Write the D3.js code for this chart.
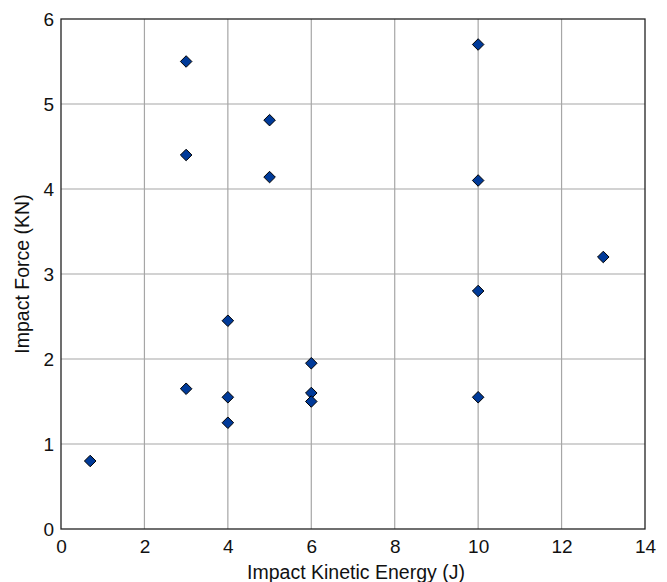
<!DOCTYPE html>
<html>
<head>
<meta charset="utf-8">
<script src="https://cdn.jsdelivr.net/npm/d3@7"></script>
<style>
body { margin: 0; background: #fff; }
text { font-family: "Liberation Sans", Arial, sans-serif; fill: #111; }
</style>
</head>
<body>
<div id="chart"></div>
<script>
const width = 667, height = 582;

// data
const energy = [0.7, 3, 3, 3, 4, 4, 4, 5, 5, 6, 6, 6, 10, 10, 10, 10, 13];
const force = [0.8, 5.5, 4.4, 1.65, 2.45, 1.55, 1.25, 4.81, 4.14, 1.95, 1.6, 1.5, 5.7, 4.1, 2.8, 1.55, 3.2];
const xTicks = [0, 2, 4, 6, 8, 10, 12, 14];
const yTicks = [0, 1, 2, 3, 4, 5, 6];

const margin = {top: 19, right: 22, bottom: 53, left: 61};

const svg = d3.select("#chart")
	.append("svg")
	.attr("width", width)
	.attr("height", height);

const x = d3.scaleLinear()
	.domain([0, 14])
	.range([margin.left, width - margin.right]);

const y = d3.scaleLinear()
	.domain([0, 6])
	.range([height - margin.bottom, margin.top]);

// grid lines
svg.append("g")
	.selectAll("line")
	.data(xTicks.slice(1, -1))
	.enter()
	.append("line")
	.attr("x1", d => x(d)).attr("x2", d => x(d))
	.attr("y1", y(0)).attr("y2", y(6))
	.attr("stroke", "#a6a6a6")
	.attr("stroke-width", 1.2);

svg.append("g")
	.selectAll("line")
	.data(yTicks.slice(1, -1))
	.enter()
	.append("line")
	.attr("x1", x(0)).attr("x2", x(14))
	.attr("y1", d => y(d)).attr("y2", d => y(d))
	.attr("stroke", "#a6a6a6")
	.attr("stroke-width", 1.2);

// plot frame
svg.append("rect")
	.attr("x", x(0))
	.attr("y", y(6))
	.attr("width", x(14) - x(0))
	.attr("height", y(0) - y(6))
	.attr("fill", "none")
	.attr("stroke", "#222")
	.attr("stroke-width", 1.3);

// axes
const xAxis = svg.append("g")
	.attr("transform", `translate(0,${y(0)})`)
	.call(d3.axisBottom(x).tickValues(xTicks).tickFormat(d3.format("d")).tickSize(0).tickPadding(11));
xAxis.select(".domain").remove();
xAxis.selectAll("text").attr("font-size", 19).attr("fill", "#111");

const yAxis = svg.append("g")
	.attr("transform", `translate(${x(0)},0)`)
	.call(d3.axisLeft(y).tickValues(yTicks).tickFormat(d3.format("d")).tickSize(0).tickPadding(7));
yAxis.select(".domain").remove();
yAxis.selectAll("text").attr("font-size", 19).attr("fill", "#111");

// axis titles
svg.append("text")
	.attr("x", (x(0) + x(14)) / 2 + 3)
	.attr("y", 579)
	.attr("text-anchor", "middle")
	.attr("font-size", 19.5)
	.text("Impact Kinetic Energy (J)");

svg.append("text")
	.attr("transform", `translate(29,${(y(0) + y(6)) / 2}) rotate(-90)`)
	.attr("text-anchor", "middle")
	.attr("font-size", 19.5)
	.text("Impact Force (KN)");

// points
const diamond = d3.symbol().type(d3.symbolDiamond2).size(85);

svg.append("g")
	.selectAll("path")
	.data(energy.map((e, i) => [e, force[i]]))
	.enter()
	.append("path")
	.attr("d", diamond)
	.attr("transform", d => `translate(${x(d[0])},${y(d[1])})`)
	.attr("fill", "#003a99")
	.attr("stroke", "#000")
	.attr("stroke-width", 1);
</script>
</body>
</html>
